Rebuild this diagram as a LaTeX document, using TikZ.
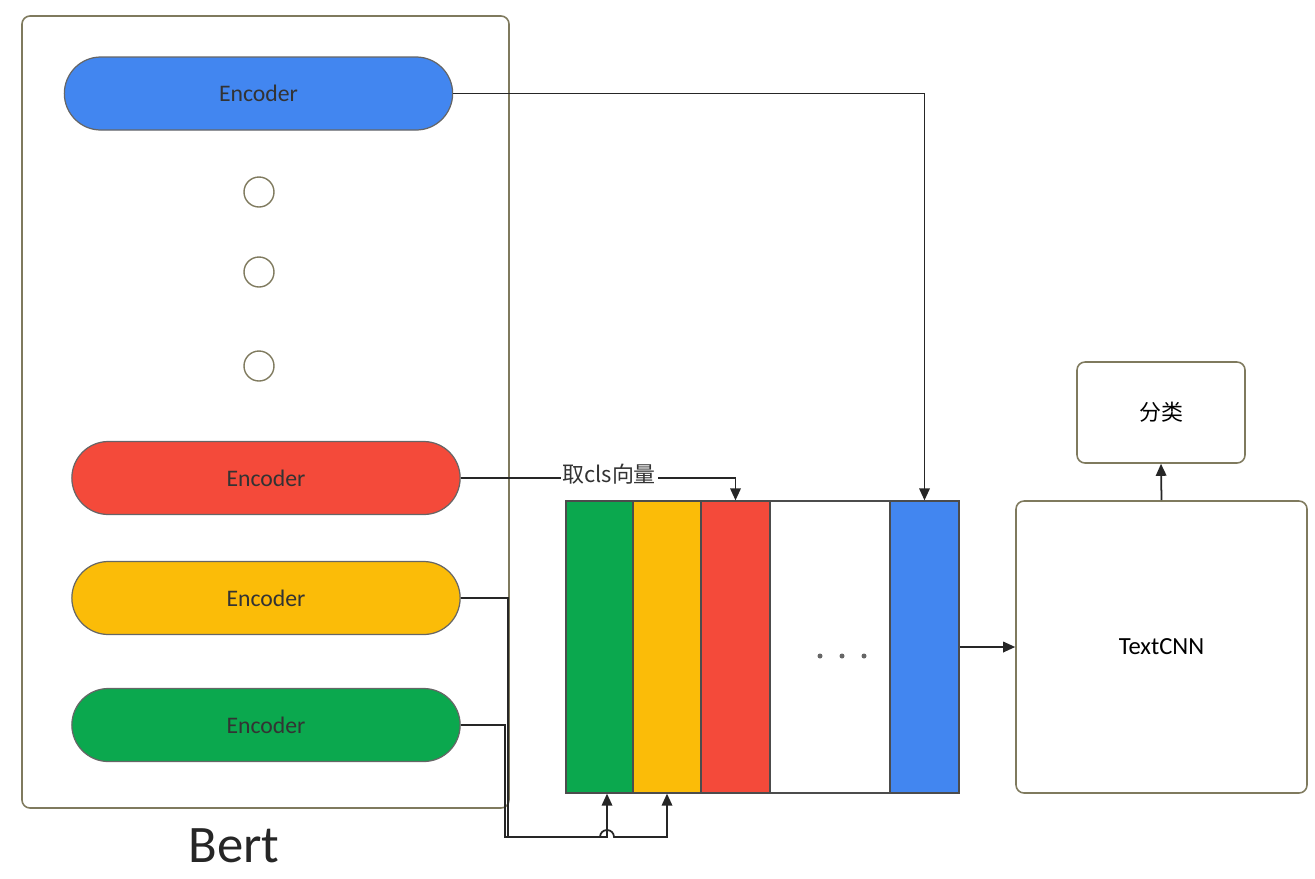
\documentclass[tikz,border=0pt]{standalone}
\usepackage{fontspec}
\setmainfont{Carlito}
\newfontfamily\cjk{Noto Sans CJK SC}
\usetikzlibrary{arrows.meta,positioning,shapes.misc}

\definecolor{gblue}{HTML}{4286F0}
\definecolor{gred}{HTML}{F44A3A}
\definecolor{gyellow}{HTML}{FBBC08}
\definecolor{ggreen}{HTML}{0BA84E}
\definecolor{frame}{HTML}{7F7A5E}

\tikzset{
    enc/.style={rounded rectangle, draw=black!60, line width=0.7pt, minimum width=80mm, minimum height=14.6mm, text=black!80, font=\fontsize{13.5}{16}\selectfont},
    col/.style={rectangle, draw=black!70, line width=0.7pt, minimum height=58.4mm, inner sep=0pt},
    box/.style={rectangle, draw=frame, line width=0.9pt, rounded corners=1.6mm, font=\fontsize{14}{17}\selectfont},
    conn/.style={draw=black!85, line width=1pt, -{Triangle[length=2.4mm, width=2.1mm]}}
}

\begin{document}
\begin{tikzpicture}[x=0.2mm, y=-0.2mm]
    \useasboundingbox (0,0) rectangle (1315,878);

    % Bert
    \node(bert) [box, minimum width=97.4mm, minimum height=158.4mm] at (265.5,412) {};
    \node(enc1) [enc, fill=gblue] at (258.5,93.5) {Encoder};
    \node(dot1) [circle, draw=frame, line width=0.8pt, minimum size=6mm] at (259,192) {};
    \node(dot2) [circle, draw=frame, line width=0.8pt, minimum size=6mm] at (259,272) {};
    \node(dot3) [circle, draw=frame, line width=0.8pt, minimum size=6mm] at (259,366) {};
    \node(enc2) [enc, fill=gred] at (266,478) {Encoder};
    \node(enc3) [enc, fill=gyellow] at (266,598) {Encoder};
    \node(enc4) [enc, fill=ggreen] at (266,725) {Encoder};
    \node(bertlbl) [font=\fontsize{30}{36}\selectfont, text=black!85] at (234,846) {Bert};

    % vectors
    \node(col1) [col, fill=ggreen, minimum width=13.4mm] at (599.5,647) {};
    \node(col2) [col, fill=gyellow, minimum width=13.6mm] at (667,647) {};
    \node(col3) [col, fill=gred, minimum width=13.8mm] at (735.5,647) {};
    \node(col4) [col, fill=white, minimum width=24mm] at (830,647) {};
    \node(col5) [col, fill=gblue, minimum width=13.8mm] at (924.5,647) {};
    \foreach \i in {0,1,2}
        \fill[black!60] (820+22*\i,656) circle (0.5mm);

    % TextCNN
    \node(cnn) [box, minimum width=58.2mm, minimum height=58.4mm] at (1161.5,647) {TextCNN};
    \node(cls) [box, minimum width=33.6mm, minimum height=20.2mm, font=\cjk\fontsize{12.5}{15}\selectfont] at (1161,412.5) {分类};

    \coordinate (g1) at (505,837);
    \coordinate (y1) at (508,837);

    \draw[conn] (enc1.east) -| (col5.north);
    \draw[conn] (enc2.east) -| node[pos=0.27, fill=white, inner sep=1pt, yshift=0.8mm, font=\cjk\fontsize{12.5}{15}\selectfont, text=black!80] {取cls向量} (col3.north);
    \draw[conn] (enc4.east) -| (g1) -| ([xshift=1.5mm]col1.south);
    \draw[conn] (enc3.east) -| (y1) -- ([xshift=0.1mm]col1.south |- y1) arc[start angle=180, end angle=360, radius=7] -| (col2.south);
    \draw[conn] (col5.east |- cnn.west) -- (cnn.west);
    \draw[conn] (cnn.north) -- (cls.south);
\end{tikzpicture}
\end{document}
